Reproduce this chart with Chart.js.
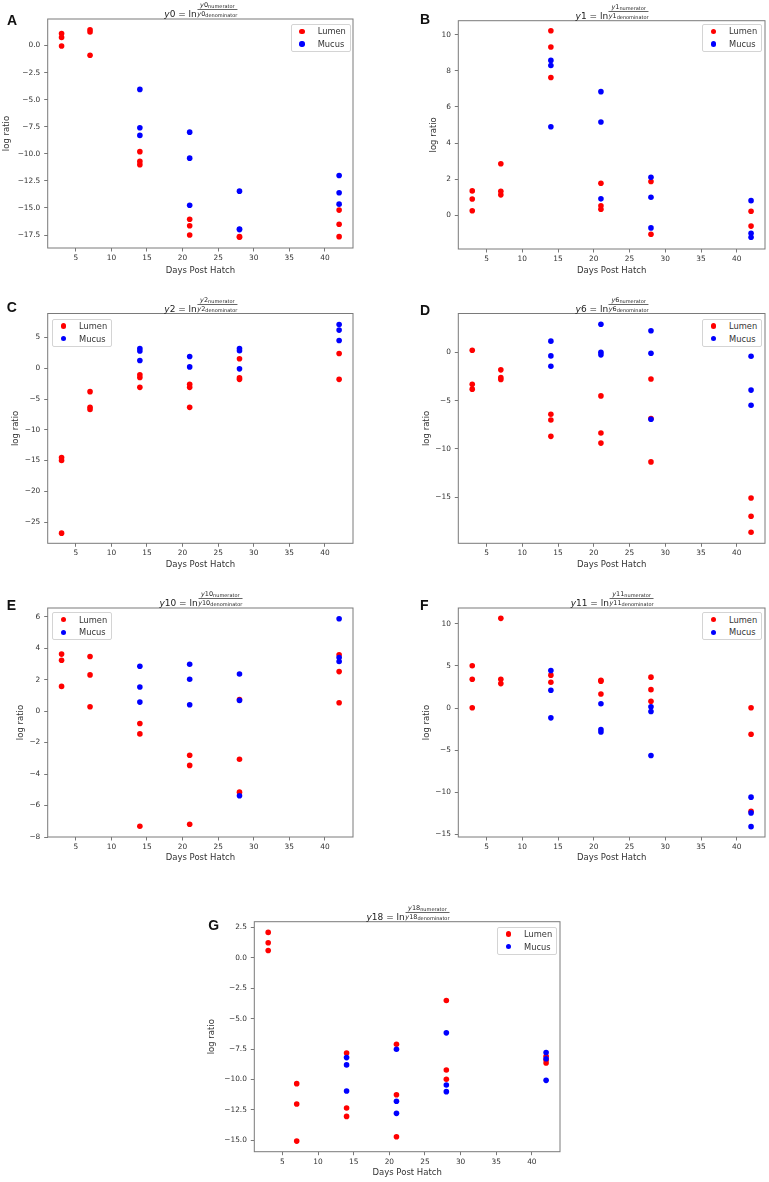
<!DOCTYPE html>
<html><head><meta charset="utf-8">
<script src="https://cdn.jsdelivr.net/npm/chart.js@4"></script>
<style>
html,body{margin:0;padding:0;background:#fff;}
body{width:769px;height:1182px;position:relative;overflow:hidden;font-family:'DejaVu Sans',sans-serif;}
.cv{position:absolute;}
.letter{position:absolute;font-family:'Liberation Sans',Arial,sans-serif;font-weight:bold;font-size:14px;line-height:14px;color:#111;}
.ttl{position:absolute;height:19px;display:flex;align-items:center;transform:translateX(-50%);white-space:nowrap;color:#222;}
.ttl .m{font-size:9px;position:relative;top:4.8px;margin-right:0.5px;}
.ttl .frac{display:inline-flex;flex-direction:column;align-items:center;font-size:6.5px;line-height:8px;}
.ttl .fd{border-top:0.6px solid #666;}
.ttl sub{font-size:5px;vertical-align:baseline;position:relative;top:1.2px;}
.leg{position:absolute;width:60px;height:28px;border:1px solid #d4d4d4;border-radius:2px;background:#fff;box-sizing:border-box;font-size:8.3px;color:#333;}
.leg .row{position:absolute;left:26px;height:10px;line-height:10px;white-space:nowrap;}
.leg .dot{position:absolute;width:5.4px;height:5.4px;border-radius:50%;}
</style>
</head><body>
<script>
// ---------------- data ----------------
const days = [3, 7, 14, 21, 28, 42];
const xTicks = [5, 10, 15, 20, 25, 30, 35, 40];
const xRange = [1.05, 43.95];
const seriesNames = ['Lumen', 'Mucus'];

const y0Lumen = [[1.1, 0.75, -0.05], [1.45, 1.25, -0.9], [-9.8, -10.7, -11.0], [-16.05, -16.65, -17.5], [-17.65, -17.7], [-15.2, -16.5, -17.65]];
const y0Mucus = [[], [], [-4.05, -7.6, -8.3], [-8.0, -10.4, -14.75], [-13.45, -16.95, -17.0], [-12.0, -13.6, -14.65]];
const y0Ticks = [0, -2.5, -5, -7.5, -10, -12.5, -15, -17.5];
const y0Range = [-18.7, 2.45];

const y1Lumen = [[1.35, 0.9, 0.25], [2.85, 1.33, 1.13], [10.22, 9.32, 7.63], [1.77, 0.52, 0.33], [1.87, -1.05], [0.22, -0.6]];
const y1Mucus = [[], [], [8.58, 8.3, 4.9], [6.85, 5.17, 0.91], [2.1, 1.0, -0.7], [0.81, -1.0, -1.22]];
const y1Ticks = [0, 2, 4, 6, 8, 10];
const y1Range = [-1.87, 10.78];

const y2Lumen = [[-14.5, -15.0, -26.8], [-3.8, -6.35, -6.7], [-1.05, -1.5, -3.1], [-2.6, -3.1, -6.35], [1.55, -1.55, -1.8], [2.4, -1.8]];
const y2Mucus = [[], [], [3.2, 2.8, 1.25], [1.9, 0.22], [3.2, 2.85, -0.1], [7.1, 6.2, 4.5]];
const y2Ticks = [5, 0, -5, -10, -15, -20, -25];
const y2Range = [-28.45, 8.9];

const y6Lumen = [[0.24, -3.3, -3.8], [-1.8, -2.6, -2.8], [-6.4, -7.0, -8.7], [-4.5, -8.35, -9.4], [-2.75, -6.85, -11.35], [-15.1, -17.0, -18.65]];
const y6Mucus = [[], [], [1.18, -0.35, -1.43], [2.93, 0.03, -0.24], [2.26, -0.07, -6.93], [-0.38, -3.9, -5.47]];
const y6Ticks = [0, -5, -10, -15];
const y6Range = [-19.8, 4.05];

const y10Lumen = [[3.62, 3.23, 1.57], [3.47, 2.3, 0.28], [-0.79, -1.45, -7.32], [-2.81, -3.45, -7.19], [0.74, -3.06, -5.15], [3.58, 2.51, 0.53]];
const y10Mucus = [[], [], [2.85, 1.53, 0.57], [2.98, 2.02, 0.4], [2.36, 0.68, -5.38], [5.87, 3.4, 3.15]];
const y10Ticks = [6, 4, 2, 0, -2, -4, -6, -8];
const y10Range = [-8.0, 6.55];

const y11Lumen = [[5.02, 3.43, 0.04], [10.65, 3.43, 2.91], [3.91, 3.07], [3.31, 3.2, 1.67], [3.67, 2.19, 0.8], [0.04, -3.11, -12.24]];
const y11Mucus = [[], [], [4.47, 2.11, -1.16], [0.52, -2.55, -2.83], [0.16, -0.4, -5.62], [-10.57, -12.44, -14.07]];
const y11Ticks = [10, 5, 0, -5, -10, -15];
const y11Range = [-15.3, 11.88];

const y18Lumen = [[2.08, 1.23, 0.6], [-10.34, -12.01, -15.06], [-7.82, -12.34, -13.03], [-7.1, -11.25, -14.7], [-3.51, -9.22, -9.98], [-8.1, -8.4, -8.65]];
const y18Mucus = [[], [], [-8.2, -8.8, -10.94], [-7.51, -11.79, -12.78], [-6.17, -10.45, -11.0], [-7.79, -8.3, -10.07]];
const y18Ticks = [2.5, 0, -2.5, -5, -7.5, -10, -12.5, -15];
const y18Range = [-15.93, 2.96];

const panels = [
  {letter: 'A', name: '0', lumen: y0Lumen, mucus: y0Mucus, ticks: y0Ticks, range: y0Range, dec: 1},
  {letter: 'B', name: '1', lumen: y1Lumen, mucus: y1Mucus, ticks: y1Ticks, range: y1Range, dec: 0},
  {letter: 'C', name: '2', lumen: y2Lumen, mucus: y2Mucus, ticks: y2Ticks, range: y2Range, dec: 0},
  {letter: 'D', name: '6', lumen: y6Lumen, mucus: y6Mucus, ticks: y6Ticks, range: y6Range, dec: 0},
  {letter: 'E', name: '10', lumen: y10Lumen, mucus: y10Mucus, ticks: y10Ticks, range: y10Range, dec: 0},
  {letter: 'F', name: '11', lumen: y11Lumen, mucus: y11Mucus, ticks: y11Ticks, range: y11Range, dec: 0},
  {letter: 'G', name: '18', lumen: y18Lumen, mucus: y18Mucus, ticks: y18Ticks, range: y18Range, dec: 1}
];

// ---------------- layout (page px) ----------------
const layouts = {
  A: {L: 47.7, T: 19, R: 354, B: 248, ytX: 7, xtY: 270.5, let: [7, 15], leg: [290.7, 24]},
  B: {L: 458.3, T: 20.7, R: 766, B: 249, ytX: 434, xtY: 270.5, let: [420, 14], leg: [702, 24]},
  C: {L: 47.7, T: 313.5, R: 354, B: 543.3, ytX: 15.3, xtY: 565, let: [6.7, 301.7], leg: [52, 318.7]},
  D: {L: 458.3, T: 313.5, R: 766, B: 543.3, ytX: 426.5, xtY: 565, let: [420, 305], leg: [702, 318.7]},
  E: {L: 47.7, T: 608, R: 354, B: 837, ytX: 20.7, xtY: 858, let: [6.7, 600], leg: [52, 612.3]},
  F: {L: 458.3, T: 608, R: 766, B: 837, ytX: 426.5, xtY: 858, let: [420, 600], leg: [702, 612.3]},
  G: {L: 254.3, T: 921.7, R: 561.7, B: 1151.7, ytX: 211.7, xtY: 1173, let: [208.3, 920], leg: [497, 926.7]}
};
const colors = {Lumen: '#ff0000', Mucus: '#0000ff'};
const FONT = "'DejaVu Sans', sans-serif";
const tickFont = {family: FONT, size: 7.4};
const titleFont = {family: FONT, size: 8.5, lineHeight: 1.2};
const halfLH = 8.5 * 1.2 / 2;

function toPoints(groups) {
  const pts = [];
  groups.forEach((g, i) => g.forEach(v => pts.push({x: days[i], y: v})));
  return pts;
}
function fmt(v, dec) {
  return (v < 0 ? '\u2212' : '') + Math.abs(v).toFixed(dec);
}

const framePlugin = {
  id: 'frame',
  afterDraw(chart) {
    const {ctx, chartArea: a} = chart;
    ctx.save();
    ctx.strokeStyle = '#7a7a7a';
    ctx.lineWidth = 1;
    ctx.strokeRect(a.left, a.top, a.right - a.left, a.bottom - a.top);
    ctx.restore();
  }
};

panels.forEach(p => {
  const g = layouts[p.letter];
  const cL = Math.floor(g.ytX - 8), cT = Math.floor(g.T - 17);
  const cW = Math.floor(Math.min(769, g.R + 3) - cL), cH = Math.ceil(g.xtY + 9 - cT);
  const padLeft = g.ytX - halfLH - cL;
  const padTop = g.T - cT;
  const padRight = cL + cW - g.R;
  const padBottom = cT + cH - (g.xtY + halfLH);
  const yW = g.L - cL - padLeft;
  const xH = g.xtY + halfLH - g.B;

  const div = document.createElement('div');
  div.className = 'cv';
  Object.assign(div.style, {left: cL + 'px', top: cT + 'px', width: cW + 'px', height: cH + 'px'});
  const cv = document.createElement('canvas');
  div.appendChild(cv);
  document.body.appendChild(div);

  new Chart(cv, {
    type: 'scatter',
    data: {
      datasets: [
        {label: seriesNames[0], data: toPoints(p.lumen), backgroundColor: colors.Lumen, borderWidth: 0, pointRadius: 2.8, order: 1},
        {label: seriesNames[1], data: toPoints(p.mucus), backgroundColor: colors.Mucus, borderWidth: 0, pointRadius: 2.8, order: 0}
      ]
    },
    options: {
      responsive: true, maintainAspectRatio: false, animation: false,
      layout: {padding: {left: padLeft, top: padTop, right: padRight, bottom: padBottom}},
      plugins: {legend: {display: false}, tooltip: {enabled: false}},
      scales: {
        x: {
          type: 'linear', min: xRange[0], max: xRange[1],
          afterBuildTicks: s => { s.ticks = xTicks.map(v => ({value: v})); },
          afterFit: s => { s.height = xH; },
          ticks: {font: tickFont, color: '#333', padding: 2.3, autoSkip: false, maxRotation: 0, callback: v => fmt(v, 0)},
          grid: {display: true, drawOnChartArea: false, drawTicks: true, tickLength: 3.5, color: '#555', lineWidth: 0.8},
          border: {display: false},
          title: {display: true, text: 'Days Post Hatch', font: titleFont, color: '#333', padding: 0}
        },
        y: {
          type: 'linear', min: p.range[0], max: p.range[1],
          afterBuildTicks: s => { s.ticks = p.ticks.map(v => ({value: v})); },
          afterFit: s => { s.width = yW; },
          ticks: {font: tickFont, color: '#333', padding: 3.9, autoSkip: false, callback: v => fmt(v, p.dec)},
          grid: {display: true, drawOnChartArea: false, drawTicks: true, tickLength: 3.5, color: '#555', lineWidth: 0.8},
          border: {display: false},
          title: {display: true, text: 'log ratio', font: titleFont, color: '#333', padding: 0}
        }
      }
    },
    plugins: [framePlugin]
  });

  // panel letter
  const lt = document.createElement('div');
  lt.className = 'letter';
  lt.textContent = p.letter;
  Object.assign(lt.style, {left: g.let[0] + 'px', top: (g.let[1] - 1.9) + 'px'});
  document.body.appendChild(lt);

  // title
  const t = document.createElement('div');
  t.className = 'ttl';
  t.innerHTML = `<span class="m"><i>y</i>${p.name} = ln</span><span class="frac"><span class="fn"><i>y</i>${p.name}<sub>numerator</sub></span><span class="fd"><i>y</i>${p.name}<sub>denominator</sub></span></span>`;
  Object.assign(t.style, {left: ((g.L + g.R) / 2) + 'px', top: (g.T - 19) + 'px'});
  document.body.appendChild(t);

  // legend
  const lg = document.createElement('div');
  lg.className = 'leg';
  Object.assign(lg.style, {left: g.leg[0] + 'px', top: g.leg[1] + 'px'});
  seriesNames.forEach((n, i) => {
    const cy = i === 0 ? 7.3 : 20;
    const d = document.createElement('span');
    d.className = 'dot';
    Object.assign(d.style, {left: (11.3 - 2.7 - 1) + 'px', top: (cy - 2.7 - 1) + 'px', background: colors[n]});
    const r = document.createElement('span');
    r.className = 'row';
    r.textContent = n;
    r.style.top = (cy - 5 - 1) + 'px';
    lg.appendChild(d);
    lg.appendChild(r);
  });
  document.body.appendChild(lg);
});
</script>
</body></html>
